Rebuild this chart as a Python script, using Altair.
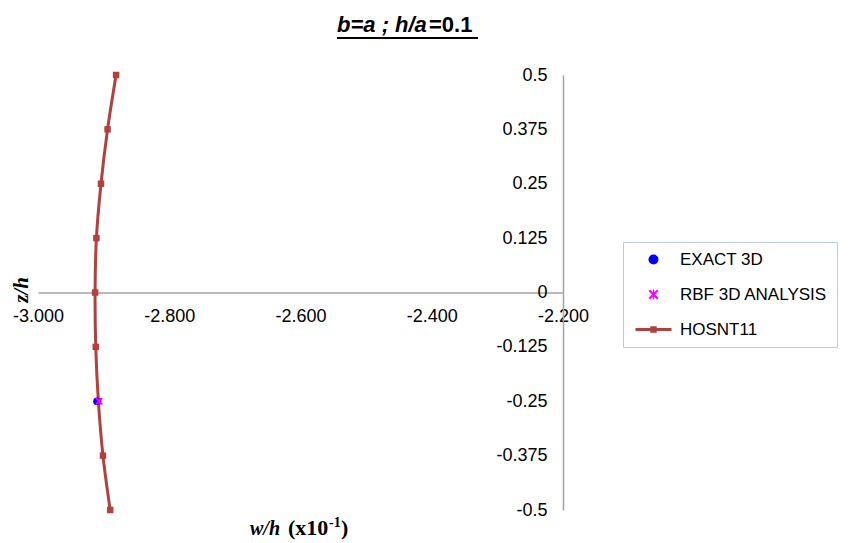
import altair as alt
import pandas as pd

# ---- data ----
z_levels = [0.5, 0.375, 0.25, 0.125, 0.0, -0.125, -0.25, -0.375, -0.5]
hosnt11_w = [-2.881, -2.894, -2.904, -2.911, -2.913, -2.912, -2.908, -2.901, -2.890]
exact_z = [-0.25]
exact_w = [-2.910]
rbf_z = [-0.25]
rbf_w = [-2.907]
series_names = ["EXACT 3D", "RBF 3D ANALYSIS", "HOSNT11"]
series_colors = ["#0000ff", "#ff00ff", "#b0413e"]
x_ticks = [-3.0, -2.8, -2.6, -2.4, -2.2]
y_ticks = [-0.5, -0.375, -0.25, -0.125, 0.0, 0.125, 0.25, 0.375, 0.5]

W, H = 525, 435

asterisk = ("M-0.7,-1L1,0.7L0.7,1L-1,-0.7Z"
            "M0.7,-1L1,-0.7L-0.7,1L-1,0.7Z"
            "M-0.13,-1L0.13,-1L0.13,1L-0.13,1Z")
line_square = ("M-3.6,-0.3L3.6,-0.3L3.6,0.3L-3.6,0.3Z"
               "M-0.65,-0.65L0.65,-0.65L0.65,0.65L-0.65,0.65Z")

hos = pd.DataFrame({"w": hosnt11_w, "z": z_levels, "series": "HOSNT11"})
pts = pd.DataFrame({
    "w": exact_w + rbf_w,
    "z": exact_z + rbf_z,
    "series": ["EXACT 3D"] * len(exact_w) + ["RBF 3D ANALYSIS"] * len(rbf_w),
})

x_enc = alt.X("w:Q",
              scale=alt.Scale(domain=[-3.0, -2.2], nice=False, zero=False),
              axis=alt.Axis(values=x_ticks,
                            labelExpr="(datum.value < 0 ? '-' : '') + format(abs(datum.value), '.3f')",
                            title=None, orient="bottom",
                            offset=-H / 2, labelFlush=False, labelOverlap=False,
                            labelPadding=15, labelBound=False))
y_enc = alt.Y("z:Q",
              scale=alt.Scale(domain=[-0.5, 0.5], nice=False, zero=False),
              axis=alt.Axis(values=y_ticks, labelExpr="datum.value + ''", title=None,
                            orient="left", offset=-W, labelFlush=False,
                            labelOverlap=False, labelPadding=16, labelBound=False))

leg = alt.Legend(title=None, orient="none", legendX=585, legendY=167, padding=9,
                 strokeColor="#bccbe5", fillColor="white", symbolOffset=13,
                 labelOffset=18, rowPadding=17, labelFontSize=17,
                 labelFont="Liberation Sans", labelColor="black", symbolSize=100,
                 symbolStrokeWidth=0, labelLimit=0)

line = alt.Chart(hos).mark_line(color=series_colors[2], strokeWidth=3,
                                interpolate="catmull-rom").encode(
    x=x_enc, y=y_enc, order=alt.Order("z:Q"))
squares = alt.Chart(hos).mark_point(shape="square", filled=True, size=42, opacity=1,
                                    color=series_colors[2]).encode(x=x_enc, y=y_enc)
markers = alt.Chart(pts).mark_point(filled=True, size=60, opacity=1).encode(
    x=x_enc, y=y_enc,
    color=alt.Color("series:N", scale=alt.Scale(domain=series_names, range=series_colors),
                    legend=leg),
    shape=alt.Shape("series:N",
                    scale=alt.Scale(domain=series_names,
                                    range=["circle", asterisk, line_square]),
                    legend=leg),
)

one = pd.DataFrame({"k": [0]})
title_a = alt.Chart(one).mark_text(text="b=a ; h/a", font="Liberation Sans", fontSize=22,
                                   fontStyle="italic", fontWeight="bold", align="left",
                                   baseline="alphabetic", color="black").encode(
    x=alt.value(299), y=alt.value(-43))
title_b = alt.Chart(one).mark_text(text="=0.1", font="Liberation Sans", fontSize=22,
                                   fontWeight="bold", align="left",
                                   baseline="alphabetic", color="black").encode(
    x=alt.value(391), y=alt.value(-43))
underline = alt.Chart(one).mark_rule(color="black", strokeWidth=2).encode(
    x=alt.value(299), x2=alt.value(440), y=alt.value(-37))

xt1 = alt.Chart(one).mark_text(text="w/h", font="Liberation Serif", fontSize=20,
                               fontStyle="italic", fontWeight="bold", align="left",
                               baseline="alphabetic", color="black").encode(
    x=alt.value(212), y=alt.value(460))
xt2 = alt.Chart(one).mark_text(text="(x10", font="Liberation Serif", fontSize=22,
                               fontWeight="bold", align="left",
                               baseline="alphabetic", color="black").encode(
    x=alt.value(250), y=alt.value(460))
xt3 = alt.Chart(one).mark_text(text="-1", font="Liberation Serif", fontSize=14,
                               fontWeight="bold", align="left",
                               baseline="alphabetic", color="black").encode(
    x=alt.value(291), y=alt.value(452))
xt4 = alt.Chart(one).mark_text(text=")", font="Liberation Serif", fontSize=22,
                               fontWeight="bold", align="left",
                               baseline="alphabetic", color="black").encode(
    x=alt.value(303), y=alt.value(460))
yt = alt.Chart(one).mark_text(text="z/h", font="Liberation Serif", fontSize=21,
                              fontStyle="italic", fontWeight="bold", align="center",
                              baseline="middle", angle=270, color="black").encode(
    x=alt.value(-16), y=alt.value(215))

chart = alt.layer(line, squares, markers, title_a, title_b, underline,
                  xt1, xt2, xt3, xt4, yt).properties(
    width=W, height=H,
    autosize=alt.AutoSizeParams(type="none"),
    padding={"left": 38, "top": 75, "right": 851 - 38 - W, "bottom": 543 - 75 - H},
    background="white",
).configure_view(stroke=None).configure_axis(
    grid=False, ticks=False, tickSize=0, domainColor="#a3a3a3", domainWidth=1.5,
    labelFont="Liberation Sans", labelFontSize=18, labelColor="black",
)

chart.save("out.html", embed_options={"renderer": "svg", "actions": False})
